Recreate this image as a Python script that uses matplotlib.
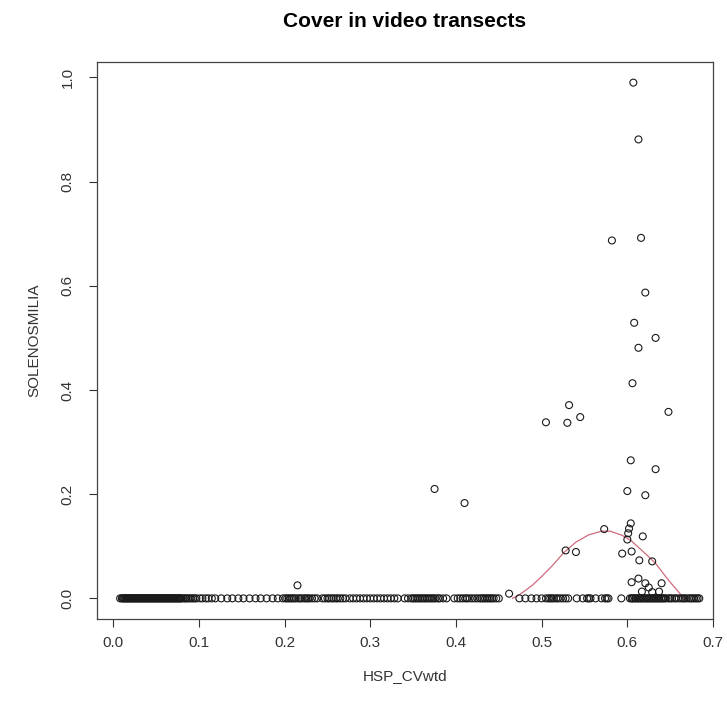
import numpy as np
import matplotlib
matplotlib.use("Agg")
import matplotlib.pyplot as plt

plt.rcParams['font.family'] = ['Liberation Sans', 'DejaVu Sans']

# observations with zero cover (y = 0), read along the bottom row
zero_x = [0.008, 0.010, 0.011, 0.012, 0.013, 0.014, 0.015, 0.016, 0.017, 0.018,
          0.019, 0.020, 0.021, 0.022, 0.023, 0.024, 0.025, 0.026, 0.027, 0.028,
          0.029, 0.030, 0.031, 0.032, 0.033, 0.034, 0.035, 0.036, 0.037, 0.038,
          0.039, 0.040, 0.041, 0.042, 0.043, 0.044, 0.045, 0.046, 0.047, 0.048,
          0.049, 0.050, 0.051, 0.052, 0.053, 0.054, 0.055, 0.056, 0.057, 0.058,
          0.059, 0.060, 0.061, 0.062, 0.063, 0.064, 0.065, 0.066, 0.067, 0.068,
          0.069, 0.070, 0.071, 0.072, 0.073, 0.074, 0.075, 0.076, 0.077, 0.078,
          0.079, 0.080, 0.082, 0.084, 0.085, 0.087, 0.089, 0.091, 0.093, 0.095,
          0.097,
          0.101, 0.104, 0.108, 0.111, 0.115, 0.119,
          0.126, 0.133, 0.139, 0.146, 0.152, 0.159, 0.166, 0.172, 0.179, 0.186,
          0.192,
          0.198, 0.201, 0.203, 0.205, 0.207, 0.209, 0.211, 0.213, 0.216, 0.218,
          0.220, 0.223, 0.225, 0.227, 0.229, 0.232, 0.235, 0.238,
          0.244, 0.247, 0.250, 0.252, 0.255, 0.257, 0.260, 0.262, 0.265, 0.268,
          0.271,
          0.276, 0.280, 0.284, 0.288, 0.292, 0.296, 0.300, 0.304, 0.308, 0.312,
          0.316, 0.320, 0.324, 0.328, 0.332,
          0.340, 0.344, 0.348, 0.350, 0.352, 0.354, 0.356, 0.358, 0.360, 0.362,
          0.364, 0.366, 0.368, 0.370, 0.372, 0.374, 0.376, 0.379, 0.381, 0.385,
          0.389,
          0.398, 0.402, 0.405, 0.408, 0.411, 0.413, 0.416, 0.419, 0.422, 0.425,
          0.428, 0.430, 0.432, 0.434, 0.436, 0.438, 0.440, 0.442, 0.444, 0.447,
          0.450,
          0.474, 0.481, 0.488, 0.494, 0.500,
          0.505, 0.508, 0.510, 0.512, 0.514, 0.517, 0.519, 0.522, 0.525, 0.528,
          0.531,
          0.541, 0.548, 0.553, 0.555, 0.557, 0.563, 0.570, 0.574, 0.576, 0.578,
          0.593,
          0.603, 0.605, 0.606, 0.607, 0.609, 0.610, 0.612, 0.613, 0.615, 0.616,
          0.618, 0.619, 0.621, 0.622, 0.624, 0.625, 0.627, 0.628, 0.630, 0.631,
          0.633, 0.634, 0.636, 0.637, 0.639, 0.640, 0.642, 0.643, 0.645,
          0.648, 0.650, 0.652, 0.655, 0.657, 0.660, 0.663, 0.665, 0.667, 0.669,
          0.672, 0.674, 0.676, 0.678, 0.680, 0.682, 0.684]

# observations with positive cover
pos_x = [0.607, 0.613, 0.582, 0.616, 0.621, 0.608, 0.633, 0.613, 0.606, 0.648,
         0.505, 0.530, 0.532, 0.545, 0.604, 0.633, 0.600, 0.621, 0.375, 0.410,
         0.215, 0.462, 0.528, 0.540, 0.573, 0.604, 0.602, 0.601, 0.600, 0.618,
         0.594, 0.605, 0.614, 0.629, 0.605, 0.613, 0.621, 0.625, 0.617, 0.637,
         0.640, 0.629]
pos_y = [0.990, 0.881, 0.687, 0.692, 0.587, 0.529, 0.500, 0.481, 0.413, 0.358,
         0.338, 0.337, 0.371, 0.348, 0.265, 0.248, 0.206, 0.198, 0.210, 0.183,
         0.025, 0.009, 0.092, 0.089, 0.133, 0.144, 0.134, 0.125, 0.113, 0.119,
         0.086, 0.090, 0.073, 0.071, 0.031, 0.038, 0.029, 0.021, 0.013, 0.013,
         0.029, 0.012]

# smoothed fit
fit_x = [0.466, 0.475, 0.489, 0.500, 0.512, 0.526, 0.540, 0.555, 0.570, 0.580,
         0.594, 0.605, 0.613, 0.623, 0.633, 0.648, 0.660, 0.666]
fit_y = [0.000, 0.008, 0.025, 0.042, 0.062, 0.088, 0.108, 0.122, 0.129, 0.129,
         0.121, 0.110, 0.098, 0.083, 0.067, 0.035, 0.012, 0.000]

x_ticks = [0.0, 0.1, 0.2, 0.3, 0.4, 0.5, 0.6, 0.7]
y_ticks = [0.0, 0.2, 0.4, 0.6, 0.8, 1.0]

fig = plt.figure(figsize=(7.27, 7.09), dpi=100)
ax = fig.add_axes([97/727, 1-619/709, 616/727, 557/709])

all_x = zero_x + pos_x
all_y = [0.0]*len(zero_x) + pos_y
ax.scatter(all_x, all_y, s=25, facecolors='none', edgecolors='#1a1a1a', linewidths=0.8, zorder=3)
ax.plot(fit_x, fit_y, color='#d06a7c', lw=0.9, zorder=2)

ax.set_xlim(-0.019, 0.700)
ax.set_ylim(-0.0396, 1.0296)
ax.set_xticks(x_ticks)
ax.set_xticklabels(["%.1f" % v for v in x_ticks])
ax.set_yticks(y_ticks)
ax.set_yticklabels(["%.1f" % v for v in y_ticks], rotation=90, va='center')
ax.tick_params(direction='out', length=6, width=0.8, labelsize=11, colors='#333333')
ax.tick_params(axis='x', pad=6)
ax.tick_params(axis='y', pad=10)
for sp in ax.spines.values():
    sp.set_linewidth(0.9)
    sp.set_color('#444444')

ax.set_xlabel("HSP_CVwtd", fontsize=11, color='#333333', labelpad=14)
ax.set_ylabel("SOLENOSMILIA", fontsize=11, color='#333333', labelpad=14)
ax.set_title("Cover in video transects", fontsize=15, fontweight='bold', pad=25)

fig.savefig("out.png", dpi=100)
